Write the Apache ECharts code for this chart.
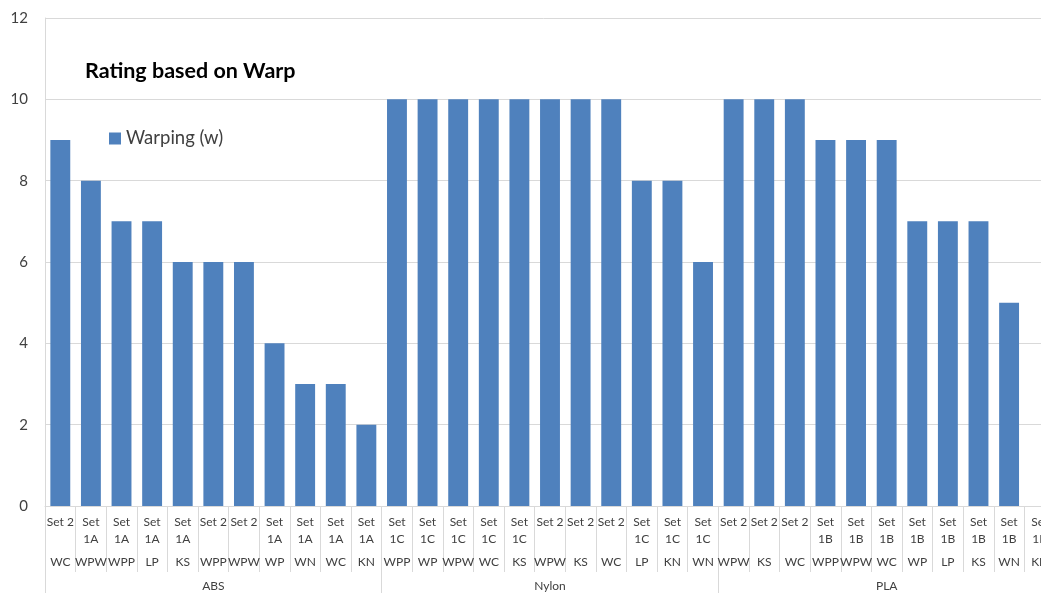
<!DOCTYPE html>
<html>
<head>
<meta charset="utf-8">
<script src="https://cdn.jsdelivr.net/npm/echarts@6/dist/echarts.min.js"></script>
<style>
  html, body { margin: 0; padding: 0; background: #fff; overflow: hidden; }
  #chart { width: 1041px; height: 593px; }
</style>
</head>
<body>
<div id="chart"></div>
<script>
// first label row: sample set, second row: test, third row: material
const sets = [
  'Set 2', 'Set 1A', 'Set 1A', 'Set 1A', 'Set 1A', 'Set 2', 'Set 2', 'Set 1A', 'Set 1A', 'Set 1A', 'Set 1A',
  'Set 1C', 'Set 1C', 'Set 1C', 'Set 1C', 'Set 1C', 'Set 2', 'Set 2', 'Set 2', 'Set 1C', 'Set 1C', 'Set 1C',
  'Set 2', 'Set 2', 'Set 2', 'Set 1B', 'Set 1B', 'Set 1B', 'Set 1B', 'Set 1B', 'Set 1B', 'Set 1B', 'Set 1B'
]
const tests = [
  'WC', 'WPW', 'WPP', 'LP', 'KS', 'WPP', 'WPW', 'WP', 'WN', 'WC', 'KN',
  'WPP', 'WP', 'WPW', 'WC', 'KS', 'WPW', 'KS', 'WC', 'LP', 'KN', 'WN',
  'WPW', 'KS', 'WC', 'WPP', 'WPW', 'WC', 'WP', 'LP', 'KS', 'WN', 'KN'
]
const materials = ['ABS', 'Nylon', 'PLA']
const warping = [
  9, 8, 7, 7, 6, 6, 6, 4, 3, 3, 2,
  10, 10, 10, 10, 10, 10, 10, 10, 8, 8, 6,
  10, 10, 10, 9, 9, 9, 7, 7, 7, 5, 0
]

const categories = sets.map((s, i) => s + '|' + tests[i] + '|' + i)

const textColor = '#404040'
const lineColor = '#d9d9d9'
const font = 'Lato'

let chart = echarts.init(document.getElementById('chart'))

chart.setOption({
  backgroundColor: '#fff',
  animation: false,
  title: {
    text: 'Rating based on Warp',
    left: 80,
    top: 55,
    textStyle: { fontFamily: font, fontSize: 21.5, fontWeight: 'bold', color: '#000' }
  },
  legend: {
    left: 104,
    top: 124,
    icon: 'rect',
    itemWidth: 12,
    itemHeight: 12,
    itemGap: 5,
    textStyle: { fontFamily: font, fontSize: 18.5, color: textColor },
    data: ['Warping (w)']
  },
  // the plot runs past the right edge of the picture, as in the cropped original
  grid: { left: 45, right: -14, top: 18, bottom: 87, containLabel: false, outerBoundsMode: 'none' },
  xAxis: [
    {
      type: 'category',
      data: categories,
      position: 'bottom',
      axisLine: { show: true, lineStyle: { color: lineColor } },
      axisTick: { show: true, interval: 0, length: 66, lineStyle: { color: lineColor } },
      axisLabel: {
        interval: 0,
        margin: 8,
        formatter: function (v) {
          const p = v.split('|')
          const s = p[0].split(' ')
          if (s[1] === '2') return '{a|Set 2}\n{a| }\n{b|' + p[1] + '}'
          return '{a|' + s[0] + '}\n{a|' + s[1] + '}\n{b|' + p[1] + '}'
        },
        rich: {
          a: { fontFamily: font, fontSize: 12, lineHeight: 17, color: textColor, align: 'center' },
          b: { fontFamily: font, fontSize: 12, lineHeight: 29, color: textColor, align: 'center' }
        }
      }
    },
    {
      type: 'category',
      data: materials,
      position: 'bottom',
      offset: 0,
      axisLine: { show: false },
      axisTick: { show: true, interval: 0, length: 87, lineStyle: { color: lineColor } },
      axisLabel: { margin: 74, fontFamily: font, fontSize: 12, color: textColor }
    }
  ],
  yAxis: {
    type: 'value',
    min: 0,
    max: 12,
    interval: 2,
    axisLine: { show: true, lineStyle: { color: lineColor } },
    axisTick: { show: false },
    axisLabel: { margin: 17, fontFamily: font, fontSize: 15, color: textColor },
    splitLine: { lineStyle: { color: lineColor } }
  },
  series: [
    {
      name: 'Warping (w)',
      type: 'bar',
      data: warping,
      barWidth: '65%',
      itemStyle: { color: '#4f81bd' }
    }
  ]
})
</script>
</body>
</html>
